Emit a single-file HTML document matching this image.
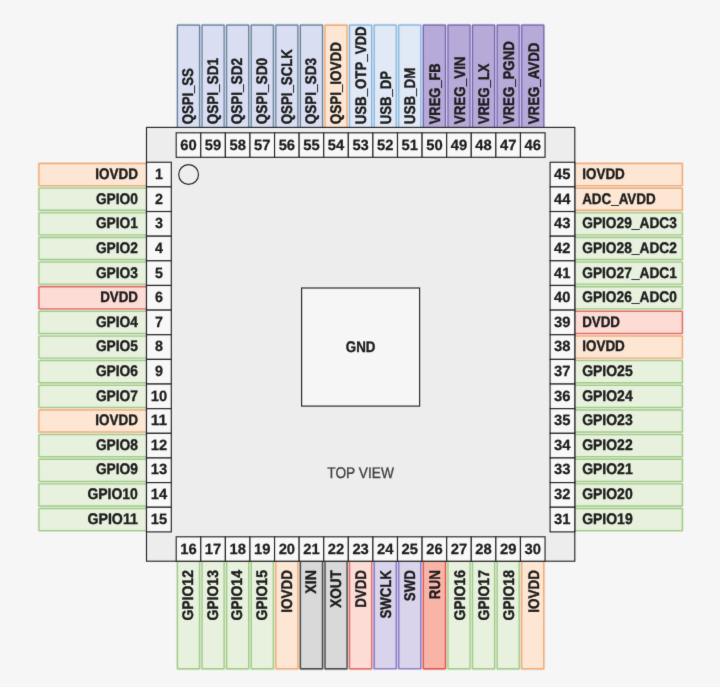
<!DOCTYPE html>
<html lang="en">
<head>
<meta charset="utf-8">
<title>RP2350 QFN-60 pinout</title>
<style>
html,body{margin:0;padding:0;background:#f6f6f6;}
body{width:720px;height:687px;overflow:hidden;}
svg{display:block;}
text{font-family:"Liberation Sans",sans-serif;font-size:15.4px;font-weight:bold;fill:#1c1c1c;stroke:#1c1c1c;stroke-width:0.4px;stroke-linejoin:round;text-rendering:geometricPrecision;}
text.n{font-size:14.8px;stroke-width:0.25px;}
text.r{font-weight:normal;fill:#404040;stroke:#404040;stroke-width:0.3px;}
</style>
</head>
<body>
<svg width="720" height="687" viewBox="0 0 720 687">
<defs><filter id="soft" x="0" y="0" width="720" height="687" filterUnits="userSpaceOnUse" color-interpolation-filters="sRGB"><feConvolveMatrix order="3" kernelMatrix="0.015 0.06 0.015 0.06 0.7 0.06 0.015 0.06 0.015" divisor="1" edgeMode="duplicate" preserveAlpha="true"/></filter></defs>
<g filter="url(#soft)">
<rect width="720" height="687" fill="#f6f6f6"/>
<g id="labels">
<rect x="37.55" y="162.1" width="111.1" height="24.95" rx="1.95" fill="#efae7c" opacity="0.3"/><rect x="39" y="163.55" width="108.2" height="22.05" rx="0.5" fill="#fde6d3" stroke="#efae7c" stroke-width="1.4"/>
<rect x="572.65" y="162.1" width="111.1" height="24.95" rx="1.95" fill="#efae7c" opacity="0.3"/><rect x="574.1" y="163.55" width="108.2" height="22.05" rx="0.5" fill="#fde6d3" stroke="#efae7c" stroke-width="1.4"/>
<rect x="176.14" y="23.85" width="24.7" height="110.9" rx="1.85" fill="#66829e" opacity="0.3"/><rect x="177.49" y="25.2" width="22" height="108.2" rx="0.5" fill="#d9def3" stroke="#66829e" stroke-width="1.2"/>
<rect x="176.07" y="559.13" width="24.85" height="111.05" rx="1.93" fill="#a2cc88" opacity="0.3"/><rect x="177.49" y="560.55" width="22" height="108.2" rx="0.5" fill="#e7f1de" stroke="#a2cc88" stroke-width="1.35"/>
<rect x="37.57" y="186.76" width="111.05" height="24.9" rx="1.93" fill="#a2cc88" opacity="0.3"/><rect x="39" y="188.19" width="108.2" height="22.05" rx="0.5" fill="#e7f1de" stroke="#a2cc88" stroke-width="1.35"/>
<rect x="572.65" y="186.74" width="111.1" height="24.95" rx="1.95" fill="#efae7c" opacity="0.3"/><rect x="574.1" y="188.19" width="108.2" height="22.05" rx="0.5" fill="#fde6d3" stroke="#efae7c" stroke-width="1.4"/>
<rect x="200.73" y="23.85" width="24.7" height="110.9" rx="1.85" fill="#66829e" opacity="0.3"/><rect x="202.08" y="25.2" width="22" height="108.2" rx="0.5" fill="#d9def3" stroke="#66829e" stroke-width="1.2"/>
<rect x="200.66" y="559.13" width="24.85" height="111.05" rx="1.93" fill="#a2cc88" opacity="0.3"/><rect x="202.08" y="560.55" width="22" height="108.2" rx="0.5" fill="#e7f1de" stroke="#a2cc88" stroke-width="1.35"/>
<rect x="37.57" y="211.41" width="111.05" height="24.9" rx="1.93" fill="#a2cc88" opacity="0.3"/><rect x="39" y="212.83" width="108.2" height="22.05" rx="0.5" fill="#e7f1de" stroke="#a2cc88" stroke-width="1.35"/>
<rect x="572.67" y="211.41" width="111.05" height="24.9" rx="1.93" fill="#a2cc88" opacity="0.3"/><rect x="574.1" y="212.83" width="108.2" height="22.05" rx="0.5" fill="#e7f1de" stroke="#a2cc88" stroke-width="1.35"/>
<rect x="225.32" y="23.85" width="24.7" height="110.9" rx="1.85" fill="#66829e" opacity="0.3"/><rect x="226.67" y="25.2" width="22" height="108.2" rx="0.5" fill="#d9def3" stroke="#66829e" stroke-width="1.2"/>
<rect x="225.25" y="559.13" width="24.85" height="111.05" rx="1.93" fill="#a2cc88" opacity="0.3"/><rect x="226.67" y="560.55" width="22" height="108.2" rx="0.5" fill="#e7f1de" stroke="#a2cc88" stroke-width="1.35"/>
<rect x="37.57" y="236.05" width="111.05" height="24.9" rx="1.93" fill="#a2cc88" opacity="0.3"/><rect x="39" y="237.48" width="108.2" height="22.05" rx="0.5" fill="#e7f1de" stroke="#a2cc88" stroke-width="1.35"/>
<rect x="572.67" y="236.05" width="111.05" height="24.9" rx="1.93" fill="#a2cc88" opacity="0.3"/><rect x="574.1" y="237.48" width="108.2" height="22.05" rx="0.5" fill="#e7f1de" stroke="#a2cc88" stroke-width="1.35"/>
<rect x="249.91" y="23.85" width="24.7" height="110.9" rx="1.85" fill="#66829e" opacity="0.3"/><rect x="251.26" y="25.2" width="22" height="108.2" rx="0.5" fill="#d9def3" stroke="#66829e" stroke-width="1.2"/>
<rect x="249.84" y="559.13" width="24.85" height="111.05" rx="1.93" fill="#a2cc88" opacity="0.3"/><rect x="251.26" y="560.55" width="22" height="108.2" rx="0.5" fill="#e7f1de" stroke="#a2cc88" stroke-width="1.35"/>
<rect x="37.57" y="260.69" width="111.05" height="24.9" rx="1.93" fill="#a2cc88" opacity="0.3"/><rect x="39" y="262.12" width="108.2" height="22.05" rx="0.5" fill="#e7f1de" stroke="#a2cc88" stroke-width="1.35"/>
<rect x="572.67" y="260.69" width="111.05" height="24.9" rx="1.93" fill="#a2cc88" opacity="0.3"/><rect x="574.1" y="262.12" width="108.2" height="22.05" rx="0.5" fill="#e7f1de" stroke="#a2cc88" stroke-width="1.35"/>
<rect x="274.5" y="23.85" width="24.7" height="110.9" rx="1.85" fill="#66829e" opacity="0.3"/><rect x="275.86" y="25.2" width="22" height="108.2" rx="0.5" fill="#d9def3" stroke="#66829e" stroke-width="1.2"/>
<rect x="274.41" y="559.1" width="24.9" height="111.1" rx="1.95" fill="#efae7c" opacity="0.3"/><rect x="275.86" y="560.55" width="22" height="108.2" rx="0.5" fill="#fde6d3" stroke="#efae7c" stroke-width="1.4"/>
<rect x="37.6" y="285.36" width="111" height="24.85" rx="1.9" fill="#e26e68" opacity="0.3"/><rect x="39" y="286.76" width="108.2" height="22.05" rx="0.5" fill="#fddcd5" stroke="#e26e68" stroke-width="1.3"/>
<rect x="572.67" y="285.34" width="111.05" height="24.9" rx="1.93" fill="#a2cc88" opacity="0.3"/><rect x="574.1" y="286.76" width="108.2" height="22.05" rx="0.5" fill="#e7f1de" stroke="#a2cc88" stroke-width="1.35"/>
<rect x="299.09" y="23.85" width="24.7" height="110.9" rx="1.85" fill="#66829e" opacity="0.3"/><rect x="300.44" y="25.2" width="22" height="108.2" rx="0.5" fill="#d9def3" stroke="#66829e" stroke-width="1.2"/>
<rect x="299.02" y="559.13" width="24.85" height="111.05" rx="1.93" fill="#4c4c4c" opacity="0.3"/><rect x="300.44" y="560.55" width="22" height="108.2" rx="0.5" fill="#d9d9d9" stroke="#4c4c4c" stroke-width="1.35"/>
<rect x="37.57" y="309.98" width="111.05" height="24.9" rx="1.93" fill="#a2cc88" opacity="0.3"/><rect x="39" y="311.4" width="108.2" height="22.05" rx="0.5" fill="#e7f1de" stroke="#a2cc88" stroke-width="1.35"/>
<rect x="572.7" y="310" width="111" height="24.85" rx="1.9" fill="#e26e68" opacity="0.3"/><rect x="574.1" y="311.4" width="108.2" height="22.05" rx="0.5" fill="#fddcd5" stroke="#e26e68" stroke-width="1.3"/>
<rect x="323.59" y="23.75" width="24.9" height="111.1" rx="1.95" fill="#efae7c" opacity="0.3"/><rect x="325.04" y="25.2" width="22" height="108.2" rx="0.5" fill="#fde6d3" stroke="#efae7c" stroke-width="1.4"/>
<rect x="323.61" y="559.13" width="24.85" height="111.05" rx="1.93" fill="#4c4c4c" opacity="0.3"/><rect x="325.04" y="560.55" width="22" height="108.2" rx="0.5" fill="#d9d9d9" stroke="#4c4c4c" stroke-width="1.35"/>
<rect x="37.57" y="334.62" width="111.05" height="24.9" rx="1.93" fill="#a2cc88" opacity="0.3"/><rect x="39" y="336.05" width="108.2" height="22.05" rx="0.5" fill="#e7f1de" stroke="#a2cc88" stroke-width="1.35"/>
<rect x="572.65" y="334.6" width="111.1" height="24.95" rx="1.95" fill="#efae7c" opacity="0.3"/><rect x="574.1" y="336.05" width="108.2" height="22.05" rx="0.5" fill="#fde6d3" stroke="#efae7c" stroke-width="1.4"/>
<rect x="348.27" y="23.85" width="24.7" height="110.9" rx="1.85" fill="#80b6e2" opacity="0.3"/><rect x="349.62" y="25.2" width="22" height="108.2" rx="0.5" fill="#e1e8f6" stroke="#80b6e2" stroke-width="1.2"/>
<rect x="348.23" y="559.15" width="24.8" height="111" rx="1.9" fill="#e26e68" opacity="0.3"/><rect x="349.62" y="560.55" width="22" height="108.2" rx="0.5" fill="#fddcd5" stroke="#e26e68" stroke-width="1.3"/>
<rect x="37.57" y="359.27" width="111.05" height="24.9" rx="1.93" fill="#a2cc88" opacity="0.3"/><rect x="39" y="360.69" width="108.2" height="22.05" rx="0.5" fill="#e7f1de" stroke="#a2cc88" stroke-width="1.35"/>
<rect x="572.67" y="359.27" width="111.05" height="24.9" rx="1.93" fill="#a2cc88" opacity="0.3"/><rect x="574.1" y="360.69" width="108.2" height="22.05" rx="0.5" fill="#e7f1de" stroke="#a2cc88" stroke-width="1.35"/>
<rect x="372.86" y="23.85" width="24.7" height="110.9" rx="1.85" fill="#80b6e2" opacity="0.3"/><rect x="374.21" y="25.2" width="22" height="108.2" rx="0.5" fill="#e1e8f6" stroke="#80b6e2" stroke-width="1.2"/>
<rect x="372.86" y="559.2" width="24.7" height="110.9" rx="1.85" fill="#7e6cc4" opacity="0.3"/><rect x="374.21" y="560.55" width="22" height="108.2" rx="0.5" fill="#d9d3eb" stroke="#7e6cc4" stroke-width="1.2"/>
<rect x="37.57" y="383.91" width="111.05" height="24.9" rx="1.93" fill="#a2cc88" opacity="0.3"/><rect x="39" y="385.33" width="108.2" height="22.05" rx="0.5" fill="#e7f1de" stroke="#a2cc88" stroke-width="1.35"/>
<rect x="572.67" y="383.91" width="111.05" height="24.9" rx="1.93" fill="#a2cc88" opacity="0.3"/><rect x="574.1" y="385.33" width="108.2" height="22.05" rx="0.5" fill="#e7f1de" stroke="#a2cc88" stroke-width="1.35"/>
<rect x="397.45" y="23.85" width="24.7" height="110.9" rx="1.85" fill="#80b6e2" opacity="0.3"/><rect x="398.81" y="25.2" width="22" height="108.2" rx="0.5" fill="#e1e8f6" stroke="#80b6e2" stroke-width="1.2"/>
<rect x="397.45" y="559.2" width="24.7" height="110.9" rx="1.85" fill="#7e6cc4" opacity="0.3"/><rect x="398.81" y="560.55" width="22" height="108.2" rx="0.5" fill="#d9d3eb" stroke="#7e6cc4" stroke-width="1.2"/>
<rect x="37.55" y="408.53" width="111.1" height="24.95" rx="1.95" fill="#efae7c" opacity="0.3"/><rect x="39" y="409.98" width="108.2" height="22.05" rx="0.5" fill="#fde6d3" stroke="#efae7c" stroke-width="1.4"/>
<rect x="572.67" y="408.55" width="111.05" height="24.9" rx="1.93" fill="#a2cc88" opacity="0.3"/><rect x="574.1" y="409.98" width="108.2" height="22.05" rx="0.5" fill="#e7f1de" stroke="#a2cc88" stroke-width="1.35"/>
<rect x="422.05" y="23.85" width="24.7" height="110.9" rx="1.85" fill="#7666b4" opacity="0.3"/><rect x="423.4" y="25.2" width="22" height="108.2" rx="0.5" fill="#b7a9d8" stroke="#7666b4" stroke-width="1.2"/>
<rect x="422" y="559.15" width="24.8" height="111" rx="1.9" fill="#e2584e" opacity="0.3"/><rect x="423.4" y="560.55" width="22" height="108.2" rx="0.5" fill="#f8b5a7" stroke="#e2584e" stroke-width="1.3"/>
<rect x="37.57" y="433.19" width="111.05" height="24.9" rx="1.93" fill="#a2cc88" opacity="0.3"/><rect x="39" y="434.62" width="108.2" height="22.05" rx="0.5" fill="#e7f1de" stroke="#a2cc88" stroke-width="1.35"/>
<rect x="572.67" y="433.19" width="111.05" height="24.9" rx="1.93" fill="#a2cc88" opacity="0.3"/><rect x="574.1" y="434.62" width="108.2" height="22.05" rx="0.5" fill="#e7f1de" stroke="#a2cc88" stroke-width="1.35"/>
<rect x="446.63" y="23.85" width="24.7" height="110.9" rx="1.85" fill="#7666b4" opacity="0.3"/><rect x="447.99" y="25.2" width="22" height="108.2" rx="0.5" fill="#b7a9d8" stroke="#7666b4" stroke-width="1.2"/>
<rect x="446.56" y="559.13" width="24.85" height="111.05" rx="1.93" fill="#a2cc88" opacity="0.3"/><rect x="447.99" y="560.55" width="22" height="108.2" rx="0.5" fill="#e7f1de" stroke="#a2cc88" stroke-width="1.35"/>
<rect x="37.57" y="457.84" width="111.05" height="24.9" rx="1.93" fill="#a2cc88" opacity="0.3"/><rect x="39" y="459.26" width="108.2" height="22.05" rx="0.5" fill="#e7f1de" stroke="#a2cc88" stroke-width="1.35"/>
<rect x="572.67" y="457.84" width="111.05" height="24.9" rx="1.93" fill="#a2cc88" opacity="0.3"/><rect x="574.1" y="459.26" width="108.2" height="22.05" rx="0.5" fill="#e7f1de" stroke="#a2cc88" stroke-width="1.35"/>
<rect x="471.22" y="23.85" width="24.7" height="110.9" rx="1.85" fill="#7666b4" opacity="0.3"/><rect x="472.57" y="25.2" width="22" height="108.2" rx="0.5" fill="#b7a9d8" stroke="#7666b4" stroke-width="1.2"/>
<rect x="471.15" y="559.13" width="24.85" height="111.05" rx="1.93" fill="#a2cc88" opacity="0.3"/><rect x="472.57" y="560.55" width="22" height="108.2" rx="0.5" fill="#e7f1de" stroke="#a2cc88" stroke-width="1.35"/>
<rect x="37.57" y="482.48" width="111.05" height="24.9" rx="1.93" fill="#a2cc88" opacity="0.3"/><rect x="39" y="483.91" width="108.2" height="22.05" rx="0.5" fill="#e7f1de" stroke="#a2cc88" stroke-width="1.35"/>
<rect x="572.67" y="482.48" width="111.05" height="24.9" rx="1.93" fill="#a2cc88" opacity="0.3"/><rect x="574.1" y="483.91" width="108.2" height="22.05" rx="0.5" fill="#e7f1de" stroke="#a2cc88" stroke-width="1.35"/>
<rect x="495.81" y="23.85" width="24.7" height="110.9" rx="1.85" fill="#7666b4" opacity="0.3"/><rect x="497.17" y="25.2" width="22" height="108.2" rx="0.5" fill="#b7a9d8" stroke="#7666b4" stroke-width="1.2"/>
<rect x="495.74" y="559.13" width="24.85" height="111.05" rx="1.93" fill="#a2cc88" opacity="0.3"/><rect x="497.17" y="560.55" width="22" height="108.2" rx="0.5" fill="#e7f1de" stroke="#a2cc88" stroke-width="1.35"/>
<rect x="37.57" y="507.12" width="111.05" height="24.9" rx="1.93" fill="#a2cc88" opacity="0.3"/><rect x="39" y="508.55" width="108.2" height="22.05" rx="0.5" fill="#e7f1de" stroke="#a2cc88" stroke-width="1.35"/>
<rect x="572.67" y="507.12" width="111.05" height="24.9" rx="1.93" fill="#a2cc88" opacity="0.3"/><rect x="574.1" y="508.55" width="108.2" height="22.05" rx="0.5" fill="#e7f1de" stroke="#a2cc88" stroke-width="1.35"/>
<rect x="520.4" y="23.85" width="24.7" height="110.9" rx="1.85" fill="#7666b4" opacity="0.3"/><rect x="521.75" y="25.2" width="22" height="108.2" rx="0.5" fill="#b7a9d8" stroke="#7666b4" stroke-width="1.2"/>
<rect x="520.3" y="559.1" width="24.9" height="111.1" rx="1.95" fill="#efae7c" opacity="0.3"/><rect x="521.75" y="560.55" width="22" height="108.2" rx="0.5" fill="#fde6d3" stroke="#efae7c" stroke-width="1.4"/>
</g>
<g id="chip">
<rect x="146.5" y="127.4" width="428.3" height="433.8" fill="#ededed" stroke="#262626" stroke-width="1.15"/>
<rect x="301.6" y="288" width="118" height="118.1" fill="#f6f6f6" stroke="#262626" stroke-width="1.15"/>
<circle cx="188.6" cy="174.5" r="9.9" fill="#eeeeee" stroke="#262626" stroke-width="1.15"/>
</g>
<g id="cells">
<rect x="146.5" y="162.25" width="24.8" height="24.64" fill="#f8f8f8" stroke="#262626" stroke-width="1.15"/>
<rect x="550.1" y="162.25" width="24.7" height="24.64" fill="#f8f8f8" stroke="#262626" stroke-width="1.15"/>
<rect x="176.2" y="132.8" width="24.59" height="24.5" fill="#f8f8f8" stroke="#262626" stroke-width="1.15"/>
<rect x="176.2" y="536.8" width="24.59" height="24.4" fill="#f8f8f8" stroke="#262626" stroke-width="1.15"/>
<rect x="146.5" y="186.89" width="24.8" height="24.64" fill="#f8f8f8" stroke="#262626" stroke-width="1.15"/>
<rect x="550.1" y="186.89" width="24.7" height="24.64" fill="#f8f8f8" stroke="#262626" stroke-width="1.15"/>
<rect x="200.79" y="132.8" width="24.59" height="24.5" fill="#f8f8f8" stroke="#262626" stroke-width="1.15"/>
<rect x="200.79" y="536.8" width="24.59" height="24.4" fill="#f8f8f8" stroke="#262626" stroke-width="1.15"/>
<rect x="146.5" y="211.54" width="24.8" height="24.64" fill="#f8f8f8" stroke="#262626" stroke-width="1.15"/>
<rect x="550.1" y="211.54" width="24.7" height="24.64" fill="#f8f8f8" stroke="#262626" stroke-width="1.15"/>
<rect x="225.38" y="132.8" width="24.59" height="24.5" fill="#f8f8f8" stroke="#262626" stroke-width="1.15"/>
<rect x="225.38" y="536.8" width="24.59" height="24.4" fill="#f8f8f8" stroke="#262626" stroke-width="1.15"/>
<rect x="146.5" y="236.18" width="24.8" height="24.64" fill="#f8f8f8" stroke="#262626" stroke-width="1.15"/>
<rect x="550.1" y="236.18" width="24.7" height="24.64" fill="#f8f8f8" stroke="#262626" stroke-width="1.15"/>
<rect x="249.97" y="132.8" width="24.59" height="24.5" fill="#f8f8f8" stroke="#262626" stroke-width="1.15"/>
<rect x="249.97" y="536.8" width="24.59" height="24.4" fill="#f8f8f8" stroke="#262626" stroke-width="1.15"/>
<rect x="146.5" y="260.82" width="24.8" height="24.64" fill="#f8f8f8" stroke="#262626" stroke-width="1.15"/>
<rect x="550.1" y="260.82" width="24.7" height="24.64" fill="#f8f8f8" stroke="#262626" stroke-width="1.15"/>
<rect x="274.56" y="132.8" width="24.59" height="24.5" fill="#f8f8f8" stroke="#262626" stroke-width="1.15"/>
<rect x="274.56" y="536.8" width="24.59" height="24.4" fill="#f8f8f8" stroke="#262626" stroke-width="1.15"/>
<rect x="146.5" y="285.47" width="24.8" height="24.64" fill="#f8f8f8" stroke="#262626" stroke-width="1.15"/>
<rect x="550.1" y="285.47" width="24.7" height="24.64" fill="#f8f8f8" stroke="#262626" stroke-width="1.15"/>
<rect x="299.15" y="132.8" width="24.59" height="24.5" fill="#f8f8f8" stroke="#262626" stroke-width="1.15"/>
<rect x="299.15" y="536.8" width="24.59" height="24.4" fill="#f8f8f8" stroke="#262626" stroke-width="1.15"/>
<rect x="146.5" y="310.11" width="24.8" height="24.64" fill="#f8f8f8" stroke="#262626" stroke-width="1.15"/>
<rect x="550.1" y="310.11" width="24.7" height="24.64" fill="#f8f8f8" stroke="#262626" stroke-width="1.15"/>
<rect x="323.74" y="132.8" width="24.59" height="24.5" fill="#f8f8f8" stroke="#262626" stroke-width="1.15"/>
<rect x="323.74" y="536.8" width="24.59" height="24.4" fill="#f8f8f8" stroke="#262626" stroke-width="1.15"/>
<rect x="146.5" y="334.75" width="24.8" height="24.64" fill="#f8f8f8" stroke="#262626" stroke-width="1.15"/>
<rect x="550.1" y="334.75" width="24.7" height="24.64" fill="#f8f8f8" stroke="#262626" stroke-width="1.15"/>
<rect x="348.33" y="132.8" width="24.59" height="24.5" fill="#f8f8f8" stroke="#262626" stroke-width="1.15"/>
<rect x="348.33" y="536.8" width="24.59" height="24.4" fill="#f8f8f8" stroke="#262626" stroke-width="1.15"/>
<rect x="146.5" y="359.39" width="24.8" height="24.64" fill="#f8f8f8" stroke="#262626" stroke-width="1.15"/>
<rect x="550.1" y="359.39" width="24.7" height="24.64" fill="#f8f8f8" stroke="#262626" stroke-width="1.15"/>
<rect x="372.92" y="132.8" width="24.59" height="24.5" fill="#f8f8f8" stroke="#262626" stroke-width="1.15"/>
<rect x="372.92" y="536.8" width="24.59" height="24.4" fill="#f8f8f8" stroke="#262626" stroke-width="1.15"/>
<rect x="146.5" y="384.04" width="24.8" height="24.64" fill="#f8f8f8" stroke="#262626" stroke-width="1.15"/>
<rect x="550.1" y="384.04" width="24.7" height="24.64" fill="#f8f8f8" stroke="#262626" stroke-width="1.15"/>
<rect x="397.51" y="132.8" width="24.59" height="24.5" fill="#f8f8f8" stroke="#262626" stroke-width="1.15"/>
<rect x="397.51" y="536.8" width="24.59" height="24.4" fill="#f8f8f8" stroke="#262626" stroke-width="1.15"/>
<rect x="146.5" y="408.68" width="24.8" height="24.64" fill="#f8f8f8" stroke="#262626" stroke-width="1.15"/>
<rect x="550.1" y="408.68" width="24.7" height="24.64" fill="#f8f8f8" stroke="#262626" stroke-width="1.15"/>
<rect x="422.1" y="132.8" width="24.59" height="24.5" fill="#f8f8f8" stroke="#262626" stroke-width="1.15"/>
<rect x="422.1" y="536.8" width="24.59" height="24.4" fill="#f8f8f8" stroke="#262626" stroke-width="1.15"/>
<rect x="146.5" y="433.32" width="24.8" height="24.64" fill="#f8f8f8" stroke="#262626" stroke-width="1.15"/>
<rect x="550.1" y="433.32" width="24.7" height="24.64" fill="#f8f8f8" stroke="#262626" stroke-width="1.15"/>
<rect x="446.69" y="132.8" width="24.59" height="24.5" fill="#f8f8f8" stroke="#262626" stroke-width="1.15"/>
<rect x="446.69" y="536.8" width="24.59" height="24.4" fill="#f8f8f8" stroke="#262626" stroke-width="1.15"/>
<rect x="146.5" y="457.97" width="24.8" height="24.64" fill="#f8f8f8" stroke="#262626" stroke-width="1.15"/>
<rect x="550.1" y="457.97" width="24.7" height="24.64" fill="#f8f8f8" stroke="#262626" stroke-width="1.15"/>
<rect x="471.28" y="132.8" width="24.59" height="24.5" fill="#f8f8f8" stroke="#262626" stroke-width="1.15"/>
<rect x="471.28" y="536.8" width="24.59" height="24.4" fill="#f8f8f8" stroke="#262626" stroke-width="1.15"/>
<rect x="146.5" y="482.61" width="24.8" height="24.64" fill="#f8f8f8" stroke="#262626" stroke-width="1.15"/>
<rect x="550.1" y="482.61" width="24.7" height="24.64" fill="#f8f8f8" stroke="#262626" stroke-width="1.15"/>
<rect x="495.87" y="132.8" width="24.59" height="24.5" fill="#f8f8f8" stroke="#262626" stroke-width="1.15"/>
<rect x="495.87" y="536.8" width="24.59" height="24.4" fill="#f8f8f8" stroke="#262626" stroke-width="1.15"/>
<rect x="146.5" y="507.25" width="24.8" height="24.64" fill="#f8f8f8" stroke="#262626" stroke-width="1.15"/>
<rect x="550.1" y="507.25" width="24.7" height="24.64" fill="#f8f8f8" stroke="#262626" stroke-width="1.15"/>
<rect x="520.46" y="132.8" width="24.59" height="24.5" fill="#f8f8f8" stroke="#262626" stroke-width="1.15"/>
<rect x="520.46" y="536.8" width="24.59" height="24.4" fill="#f8f8f8" stroke="#262626" stroke-width="1.15"/>
</g>
<g id="text">
<text x="137.9" y="179.25" text-anchor="end" textLength="42.66" lengthAdjust="spacingAndGlyphs">IOVDD</text>
<text x="158.9" y="179.25" text-anchor="middle" class="n" textLength="7.96" lengthAdjust="spacingAndGlyphs">1</text>
<text x="582.2" y="179.25" textLength="42.66" lengthAdjust="spacingAndGlyphs">IOVDD</text>
<text x="562.15" y="179.25" text-anchor="middle" class="n" textLength="16.43" lengthAdjust="spacingAndGlyphs">45</text>
<text transform="translate(193.09 124.3) rotate(-90)" textLength="56.11" lengthAdjust="spacingAndGlyphs">QSPI_SS</text>
<text x="188.5" y="149.75" text-anchor="middle" class="n" textLength="16.43" lengthAdjust="spacingAndGlyphs">60</text>
<text transform="translate(193.09 570.1) rotate(-90)" text-anchor="end" textLength="50.48" lengthAdjust="spacingAndGlyphs">GPIO12</text>
<text x="188.5" y="553.95" text-anchor="middle" class="n" textLength="16.43" lengthAdjust="spacingAndGlyphs">16</text>
<text x="137.9" y="203.85" text-anchor="end" textLength="42.02" lengthAdjust="spacingAndGlyphs">GPIO0</text>
<text x="158.9" y="203.85" text-anchor="middle" class="n" textLength="7.96" lengthAdjust="spacingAndGlyphs">2</text>
<text x="582.2" y="203.85" textLength="73.48" lengthAdjust="spacingAndGlyphs">ADC_AVDD</text>
<text x="562.15" y="203.85" text-anchor="middle" class="n" textLength="16.43" lengthAdjust="spacingAndGlyphs">44</text>
<text transform="translate(217.77 124.3) rotate(-90)" textLength="66.29" lengthAdjust="spacingAndGlyphs">QSPI_SD1</text>
<text x="213.08" y="149.75" text-anchor="middle" class="n" textLength="16.43" lengthAdjust="spacingAndGlyphs">59</text>
<text transform="translate(217.77 570.1) rotate(-90)" text-anchor="end" textLength="50.48" lengthAdjust="spacingAndGlyphs">GPIO13</text>
<text x="213.08" y="553.95" text-anchor="middle" class="n" textLength="16.43" lengthAdjust="spacingAndGlyphs">17</text>
<text x="137.9" y="228.45" text-anchor="end" textLength="42.02" lengthAdjust="spacingAndGlyphs">GPIO1</text>
<text x="158.9" y="228.45" text-anchor="middle" class="n" textLength="7.96" lengthAdjust="spacingAndGlyphs">3</text>
<text x="582.2" y="228.45" textLength="94.72" lengthAdjust="spacingAndGlyphs">GPIO29_ADC3</text>
<text x="562.15" y="228.45" text-anchor="middle" class="n" textLength="16.43" lengthAdjust="spacingAndGlyphs">43</text>
<text transform="translate(242.46 124.3) rotate(-90)" textLength="66.29" lengthAdjust="spacingAndGlyphs">QSPI_SD2</text>
<text x="237.68" y="149.75" text-anchor="middle" class="n" textLength="16.43" lengthAdjust="spacingAndGlyphs">58</text>
<text transform="translate(242.46 570.1) rotate(-90)" text-anchor="end" textLength="50.48" lengthAdjust="spacingAndGlyphs">GPIO14</text>
<text x="237.68" y="553.95" text-anchor="middle" class="n" textLength="16.43" lengthAdjust="spacingAndGlyphs">18</text>
<text x="137.9" y="253.05" text-anchor="end" textLength="42.02" lengthAdjust="spacingAndGlyphs">GPIO2</text>
<text x="158.9" y="253.05" text-anchor="middle" class="n" textLength="7.96" lengthAdjust="spacingAndGlyphs">4</text>
<text x="582.2" y="253.05" textLength="94.72" lengthAdjust="spacingAndGlyphs">GPIO28_ADC2</text>
<text x="562.15" y="253.05" text-anchor="middle" class="n" textLength="16.43" lengthAdjust="spacingAndGlyphs">42</text>
<text transform="translate(267.13 124.3) rotate(-90)" textLength="66.29" lengthAdjust="spacingAndGlyphs">QSPI_SD0</text>
<text x="262.26" y="149.75" text-anchor="middle" class="n" textLength="16.43" lengthAdjust="spacingAndGlyphs">57</text>
<text transform="translate(267.13 570.1) rotate(-90)" text-anchor="end" textLength="50.48" lengthAdjust="spacingAndGlyphs">GPIO15</text>
<text x="262.26" y="553.95" text-anchor="middle" class="n" textLength="16.43" lengthAdjust="spacingAndGlyphs">19</text>
<text x="137.9" y="277.65" text-anchor="end" textLength="42.02" lengthAdjust="spacingAndGlyphs">GPIO3</text>
<text x="158.9" y="277.65" text-anchor="middle" class="n" textLength="7.96" lengthAdjust="spacingAndGlyphs">5</text>
<text x="582.2" y="277.65" textLength="94.72" lengthAdjust="spacingAndGlyphs">GPIO27_ADC1</text>
<text x="562.15" y="277.65" text-anchor="middle" class="n" textLength="16.43" lengthAdjust="spacingAndGlyphs">41</text>
<text transform="translate(291.82 124.3) rotate(-90)" textLength="75.25" lengthAdjust="spacingAndGlyphs">QSPI_SCLK</text>
<text x="286.86" y="149.75" text-anchor="middle" class="n" textLength="16.43" lengthAdjust="spacingAndGlyphs">56</text>
<text transform="translate(291.82 570.1) rotate(-90)" text-anchor="end" textLength="42.66" lengthAdjust="spacingAndGlyphs">IOVDD</text>
<text x="286.86" y="553.95" text-anchor="middle" class="n" textLength="16.43" lengthAdjust="spacingAndGlyphs">20</text>
<text x="137.9" y="302.25" text-anchor="end" textLength="37.77" lengthAdjust="spacingAndGlyphs">DVDD</text>
<text x="158.9" y="302.25" text-anchor="middle" class="n" textLength="7.96" lengthAdjust="spacingAndGlyphs">6</text>
<text x="582.2" y="302.25" textLength="94.72" lengthAdjust="spacingAndGlyphs">GPIO26_ADC0</text>
<text x="562.15" y="302.25" text-anchor="middle" class="n" textLength="16.43" lengthAdjust="spacingAndGlyphs">40</text>
<text transform="translate(316.49 124.3) rotate(-90)" textLength="66.29" lengthAdjust="spacingAndGlyphs">QSPI_SD3</text>
<text x="311.44" y="149.75" text-anchor="middle" class="n" textLength="16.43" lengthAdjust="spacingAndGlyphs">55</text>
<text transform="translate(316.49 570.1) rotate(-90)" text-anchor="end" textLength="23.61" lengthAdjust="spacingAndGlyphs">XIN</text>
<text x="311.44" y="553.95" text-anchor="middle" class="n" textLength="16.43" lengthAdjust="spacingAndGlyphs">21</text>
<text x="137.9" y="326.85" text-anchor="end" textLength="42.02" lengthAdjust="spacingAndGlyphs">GPIO4</text>
<text x="158.9" y="326.85" text-anchor="middle" class="n" textLength="7.96" lengthAdjust="spacingAndGlyphs">7</text>
<text x="582.2" y="326.85" textLength="37.77" lengthAdjust="spacingAndGlyphs">DVDD</text>
<text x="562.15" y="326.85" text-anchor="middle" class="n" textLength="16.43" lengthAdjust="spacingAndGlyphs">39</text>
<text transform="translate(341.18 124.3) rotate(-90)" textLength="82.33" lengthAdjust="spacingAndGlyphs">QSPI_IOVDD</text>
<text x="336.03" y="149.75" text-anchor="middle" class="n" textLength="16.43" lengthAdjust="spacingAndGlyphs">54</text>
<text transform="translate(341.18 570.1) rotate(-90)" text-anchor="end" textLength="37.71" lengthAdjust="spacingAndGlyphs">XOUT</text>
<text x="336.03" y="553.95" text-anchor="middle" class="n" textLength="16.43" lengthAdjust="spacingAndGlyphs">22</text>
<text x="137.9" y="351.45" text-anchor="end" textLength="42.02" lengthAdjust="spacingAndGlyphs">GPIO5</text>
<text x="158.9" y="351.45" text-anchor="middle" class="n" textLength="7.96" lengthAdjust="spacingAndGlyphs">8</text>
<text x="582.2" y="351.45" textLength="42.66" lengthAdjust="spacingAndGlyphs">IOVDD</text>
<text x="562.15" y="351.45" text-anchor="middle" class="n" textLength="16.43" lengthAdjust="spacingAndGlyphs">38</text>
<text transform="translate(365.86 124.3) rotate(-90)" textLength="97.92" lengthAdjust="spacingAndGlyphs">USB_OTP_VDD</text>
<text x="360.62" y="149.75" text-anchor="middle" class="n" textLength="16.43" lengthAdjust="spacingAndGlyphs">53</text>
<text transform="translate(365.86 570.1) rotate(-90)" text-anchor="end" textLength="37.77" lengthAdjust="spacingAndGlyphs">DVDD</text>
<text x="360.62" y="553.95" text-anchor="middle" class="n" textLength="16.43" lengthAdjust="spacingAndGlyphs">23</text>
<text x="137.9" y="376.05" text-anchor="end" textLength="42.02" lengthAdjust="spacingAndGlyphs">GPIO6</text>
<text x="158.9" y="376.05" text-anchor="middle" class="n" textLength="7.96" lengthAdjust="spacingAndGlyphs">9</text>
<text x="582.2" y="376.05" textLength="50.48" lengthAdjust="spacingAndGlyphs">GPIO25</text>
<text x="562.15" y="376.05" text-anchor="middle" class="n" textLength="16.43" lengthAdjust="spacingAndGlyphs">37</text>
<text transform="translate(390.53 124.3) rotate(-90)" textLength="53.39" lengthAdjust="spacingAndGlyphs">USB_DP</text>
<text x="385.21" y="149.75" text-anchor="middle" class="n" textLength="16.43" lengthAdjust="spacingAndGlyphs">52</text>
<text transform="translate(390.53 570.1) rotate(-90)" text-anchor="end" textLength="48.49" lengthAdjust="spacingAndGlyphs">SWCLK</text>
<text x="385.21" y="553.95" text-anchor="middle" class="n" textLength="16.43" lengthAdjust="spacingAndGlyphs">24</text>
<text x="137.9" y="400.65" text-anchor="end" textLength="42.02" lengthAdjust="spacingAndGlyphs">GPIO7</text>
<text x="158.9" y="400.65" text-anchor="middle" class="n" textLength="16.43" lengthAdjust="spacingAndGlyphs">10</text>
<text x="582.2" y="400.65" textLength="50.48" lengthAdjust="spacingAndGlyphs">GPIO24</text>
<text x="562.15" y="400.65" text-anchor="middle" class="n" textLength="16.43" lengthAdjust="spacingAndGlyphs">36</text>
<text transform="translate(415.21 124.3) rotate(-90)" textLength="56.79" lengthAdjust="spacingAndGlyphs">USB_DM</text>
<text x="409.8" y="149.75" text-anchor="middle" class="n" textLength="16.43" lengthAdjust="spacingAndGlyphs">51</text>
<text transform="translate(415.21 570.1) rotate(-90)" text-anchor="end" textLength="31.07" lengthAdjust="spacingAndGlyphs">SWD</text>
<text x="409.8" y="553.95" text-anchor="middle" class="n" textLength="16.43" lengthAdjust="spacingAndGlyphs">25</text>
<text x="137.9" y="425.25" text-anchor="end" textLength="42.66" lengthAdjust="spacingAndGlyphs">IOVDD</text>
<text x="158.9" y="425.25" text-anchor="middle" class="n" textLength="16.43" lengthAdjust="spacingAndGlyphs">11</text>
<text x="582.2" y="425.25" textLength="50.48" lengthAdjust="spacingAndGlyphs">GPIO23</text>
<text x="562.15" y="425.25" text-anchor="middle" class="n" textLength="16.43" lengthAdjust="spacingAndGlyphs">35</text>
<text transform="translate(439.89 124.3) rotate(-90)" textLength="60.99" lengthAdjust="spacingAndGlyphs">VREG_FB</text>
<text x="434.39" y="149.75" text-anchor="middle" class="n" textLength="16.43" lengthAdjust="spacingAndGlyphs">50</text>
<text transform="translate(439.89 570.1) rotate(-90)" text-anchor="end" textLength="29.04" lengthAdjust="spacingAndGlyphs">RUN</text>
<text x="434.39" y="553.95" text-anchor="middle" class="n" textLength="16.43" lengthAdjust="spacingAndGlyphs">26</text>
<text x="137.9" y="449.85" text-anchor="end" textLength="42.02" lengthAdjust="spacingAndGlyphs">GPIO8</text>
<text x="158.9" y="449.85" text-anchor="middle" class="n" textLength="16.43" lengthAdjust="spacingAndGlyphs">12</text>
<text x="582.2" y="449.85" textLength="50.48" lengthAdjust="spacingAndGlyphs">GPIO22</text>
<text x="562.15" y="449.85" text-anchor="middle" class="n" textLength="16.43" lengthAdjust="spacingAndGlyphs">34</text>
<text transform="translate(464.58 124.3) rotate(-90)" textLength="67.86" lengthAdjust="spacingAndGlyphs">VREG_VIN</text>
<text x="458.99" y="149.75" text-anchor="middle" class="n" textLength="16.43" lengthAdjust="spacingAndGlyphs">49</text>
<text transform="translate(464.58 570.1) rotate(-90)" text-anchor="end" textLength="50.48" lengthAdjust="spacingAndGlyphs">GPIO16</text>
<text x="458.99" y="553.95" text-anchor="middle" class="n" textLength="16.43" lengthAdjust="spacingAndGlyphs">27</text>
<text x="137.9" y="474.45" text-anchor="end" textLength="42.02" lengthAdjust="spacingAndGlyphs">GPIO9</text>
<text x="158.9" y="474.45" text-anchor="middle" class="n" textLength="16.43" lengthAdjust="spacingAndGlyphs">13</text>
<text x="582.2" y="474.45" textLength="50.48" lengthAdjust="spacingAndGlyphs">GPIO21</text>
<text x="562.15" y="474.45" text-anchor="middle" class="n" textLength="16.43" lengthAdjust="spacingAndGlyphs">33</text>
<text transform="translate(489.25 124.3) rotate(-90)" textLength="60.86" lengthAdjust="spacingAndGlyphs">VREG_LX</text>
<text x="483.57" y="149.75" text-anchor="middle" class="n" textLength="16.43" lengthAdjust="spacingAndGlyphs">48</text>
<text transform="translate(489.25 570.1) rotate(-90)" text-anchor="end" textLength="50.48" lengthAdjust="spacingAndGlyphs">GPIO17</text>
<text x="483.57" y="553.95" text-anchor="middle" class="n" textLength="16.43" lengthAdjust="spacingAndGlyphs">28</text>
<text x="137.9" y="499.05" text-anchor="end" textLength="50.48" lengthAdjust="spacingAndGlyphs">GPIO10</text>
<text x="158.9" y="499.05" text-anchor="middle" class="n" textLength="16.43" lengthAdjust="spacingAndGlyphs">14</text>
<text x="582.2" y="499.05" textLength="50.48" lengthAdjust="spacingAndGlyphs">GPIO20</text>
<text x="562.15" y="499.05" text-anchor="middle" class="n" textLength="16.43" lengthAdjust="spacingAndGlyphs">32</text>
<text transform="translate(513.93 124.3) rotate(-90)" textLength="83.07" lengthAdjust="spacingAndGlyphs">VREG_PGND</text>
<text x="508.17" y="149.75" text-anchor="middle" class="n" textLength="16.43" lengthAdjust="spacingAndGlyphs">47</text>
<text transform="translate(513.93 570.1) rotate(-90)" text-anchor="end" textLength="50.48" lengthAdjust="spacingAndGlyphs">GPIO18</text>
<text x="508.17" y="553.95" text-anchor="middle" class="n" textLength="16.43" lengthAdjust="spacingAndGlyphs">29</text>
<text x="137.9" y="523.65" text-anchor="end" textLength="50.48" lengthAdjust="spacingAndGlyphs">GPIO11</text>
<text x="158.9" y="523.65" text-anchor="middle" class="n" textLength="16.43" lengthAdjust="spacingAndGlyphs">15</text>
<text x="582.2" y="523.65" textLength="50.48" lengthAdjust="spacingAndGlyphs">GPIO19</text>
<text x="562.15" y="523.65" text-anchor="middle" class="n" textLength="16.43" lengthAdjust="spacingAndGlyphs">31</text>
<text transform="translate(538.62 124.3) rotate(-90)" textLength="81.7" lengthAdjust="spacingAndGlyphs">VREG_AVDD</text>
<text x="532.76" y="149.75" text-anchor="middle" class="n" textLength="16.43" lengthAdjust="spacingAndGlyphs">46</text>
<text transform="translate(538.62 570.1) rotate(-90)" text-anchor="end" textLength="42.66" lengthAdjust="spacingAndGlyphs">IOVDD</text>
<text x="532.76" y="553.95" text-anchor="middle" class="n" textLength="16.43" lengthAdjust="spacingAndGlyphs">30</text>
<text x="360.6" y="352.05" text-anchor="middle" textLength="29.56" lengthAdjust="spacingAndGlyphs">GND</text>
<text x="360.6" y="477.54" text-anchor="middle" class="r" textLength="66.58" lengthAdjust="spacingAndGlyphs">TOP VIEW</text>
</g>
</g>
</svg>
</body>
</html>
